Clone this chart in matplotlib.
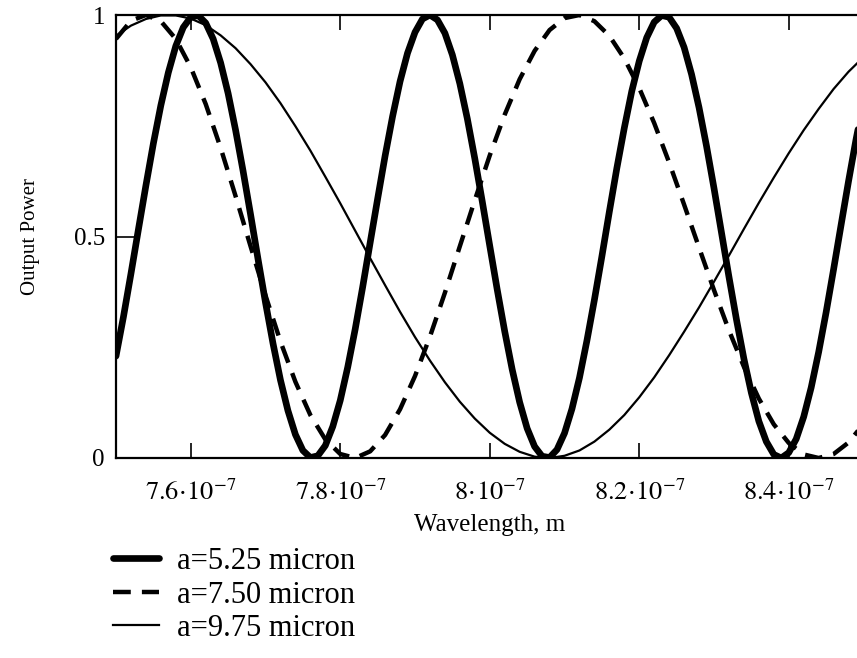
import numpy as np
import matplotlib.pyplot as plt

plt.rcParams['font.family'] = ['Liberation Serif', 'DejaVu Serif']
plt.rcParams['mathtext.fontset'] = 'stix'

# wavelength in units of 1e-7 m
wl_fine = [7.50, 7.51, 7.52, 7.53, 7.54, 7.55, 7.56, 7.57, 7.58, 7.59,
           7.60, 7.61, 7.62, 7.63, 7.64, 7.65, 7.66, 7.67, 7.68, 7.69,
           7.70, 7.71, 7.72, 7.73, 7.74, 7.75, 7.76, 7.77, 7.78, 7.79,
           7.80, 7.81, 7.82, 7.83, 7.84, 7.85, 7.86, 7.87, 7.88, 7.89,
           7.90, 7.91, 7.92, 7.93, 7.94, 7.95, 7.96, 7.97, 7.98, 7.99,
           8.00, 8.01, 8.02, 8.03, 8.04, 8.05, 8.06, 8.07, 8.08, 8.09,
           8.10, 8.11, 8.12, 8.13, 8.14, 8.15, 8.16, 8.17, 8.18, 8.19,
           8.20, 8.21, 8.22, 8.23, 8.24, 8.25, 8.26, 8.27, 8.28, 8.29,
           8.30, 8.31, 8.32, 8.33, 8.34, 8.35, 8.36, 8.37, 8.38, 8.39,
           8.40, 8.41, 8.42, 8.43, 8.44, 8.45, 8.46, 8.47, 8.48, 8.49, 8.50]

# a = 5.25 micron
p_525 = [0.230, 0.319, 0.416, 0.516, 0.615, 0.710, 0.796, 0.870, 0.930, 0.972,
         0.995, 0.999, 0.982, 0.946, 0.892, 0.823, 0.740, 0.648, 0.550, 0.449,
         0.351, 0.259, 0.176, 0.107, 0.053, 0.017, 0.001, 0.005, 0.028, 0.071,
         0.130, 0.205, 0.291, 0.386, 0.486, 0.585, 0.682, 0.771, 0.850, 0.914,
         0.961, 0.991, 1.000, 0.989, 0.959, 0.910, 0.845, 0.766, 0.676, 0.579,
         0.479, 0.380, 0.286, 0.200, 0.126, 0.067, 0.026, 0.004, 0.001, 0.019,
         0.056, 0.111, 0.181, 0.265, 0.357, 0.455, 0.556, 0.654, 0.745, 0.828,
         0.896, 0.949, 0.984, 0.999, 0.995, 0.970, 0.927, 0.866, 0.791, 0.704,
         0.609, 0.509, 0.409, 0.313, 0.224, 0.147, 0.083, 0.037, 0.008, 0.000,
         0.012, 0.043, 0.093, 0.159, 0.239, 0.329, 0.426, 0.526, 0.625, 0.719, 0.804]

wl = [7.50, 7.52, 7.54, 7.56, 7.58, 7.60, 7.62, 7.64, 7.66, 7.68,
      7.70, 7.72, 7.74, 7.76, 7.78, 7.80, 7.82, 7.84, 7.86, 7.88,
      7.90, 7.92, 7.94, 7.96, 7.98, 8.00, 8.02, 8.04, 8.06, 8.08,
      8.10, 8.12, 8.14, 8.16, 8.18, 8.20, 8.22, 8.24, 8.26, 8.28,
      8.30, 8.32, 8.34, 8.36, 8.38, 8.40, 8.42, 8.44, 8.46, 8.48, 8.50]

# a = 7.50 micron
p_750 = [0.946, 0.987, 1.000, 0.986, 0.946, 0.882, 0.799, 0.700, 0.591, 0.478,
         0.367, 0.263, 0.172, 0.097, 0.042, 0.009, 0.000, 0.015, 0.052, 0.110,
         0.185, 0.274, 0.373, 0.478, 0.582, 0.683, 0.775, 0.855, 0.919, 0.966,
         0.993, 1.000, 0.986, 0.953, 0.902, 0.835, 0.756, 0.667, 0.572, 0.475,
         0.379, 0.288, 0.206, 0.134, 0.076, 0.034, 0.008, 0.000, 0.009, 0.035, 0.077]

# a = 9.75 micron
p_975 = [0.953, 0.976, 0.991, 0.999, 0.999, 0.992, 0.977, 0.954, 0.925, 0.889,
         0.848, 0.801, 0.749, 0.694, 0.635, 0.575, 0.513, 0.451, 0.390, 0.330,
         0.273, 0.220, 0.171, 0.127, 0.089, 0.057, 0.032, 0.014, 0.003, 0.000,
         0.005, 0.017, 0.037, 0.064, 0.097, 0.137, 0.182, 0.232, 0.285, 0.340,
         0.398, 0.457, 0.517, 0.576, 0.633, 0.688, 0.740, 0.788, 0.833, 0.872, 0.905]

xticks = [7.6, 7.8, 8.0, 8.2, 8.4]
xticklabels = [r'$\mathrm{7.6\!\cdot\!10^{-7}}$', r'$\mathrm{7.8\!\cdot\!10^{-7}}$',
               r'$\mathrm{8\!\cdot\!10^{-7}}$', r'$\mathrm{8.2\!\cdot\!10^{-7}}$',
               r'$\mathrm{8.4\!\cdot\!10^{-7}}$']
yticks = [0, 0.5, 1]
yticklabels = ['0', '0.5', '1']
labels = ['a=5.25 micron', 'a=7.50 micron', 'a=9.75 micron']

fig = plt.figure(figsize=(8.57, 6.58), dpi=100)
ax = fig.add_axes([116 / 857, 200 / 658, 747.5 / 857, 443 / 658])

l1, = ax.plot(wl_fine, p_525, color='black', lw=4.8, solid_capstyle='round')
l2, = ax.plot(wl, p_750, color='black', lw=3.2, dashes=(4, 2.5))
l3, = ax.plot(wl, p_975, color='black', lw=1.6)

ax.set_xlim(7.5, 8.5)
ax.set_ylim(0, 1)
ax.set_xticks(xticks)
ax.set_xticklabels(xticklabels, fontsize=19)
ax.set_yticks(yticks)
ax.set_yticklabels(yticklabels, fontsize=18)
ax.tick_params(axis='x', direction='in', length=11, width=1.2, top=True, pad=15)
ax.tick_params(axis='y', direction='in', length=13, width=1.2, pad=8)
for s in ax.spines.values():
    s.set_linewidth(1.6)

ax.set_xlabel('Wavelength, m', fontsize=18)
ax.xaxis.set_label_coords(0.5, (458 - 514) / 443)
ax.set_ylabel('Output Power', fontsize=15)
ax.yaxis.set_label_coords((40 - 116) / 747.5, 0.5)

fig.legend([l1, l2, l3], labels, loc='upper left',
           bbox_to_anchor=(113 / 857, 1 - 547 / 658), frameon=False,
           borderpad=0, borderaxespad=0,
           fontsize=22, handlelength=1.5, handletextpad=0.6, labelspacing=0.15)

fig.savefig('out.png', dpi=100)
